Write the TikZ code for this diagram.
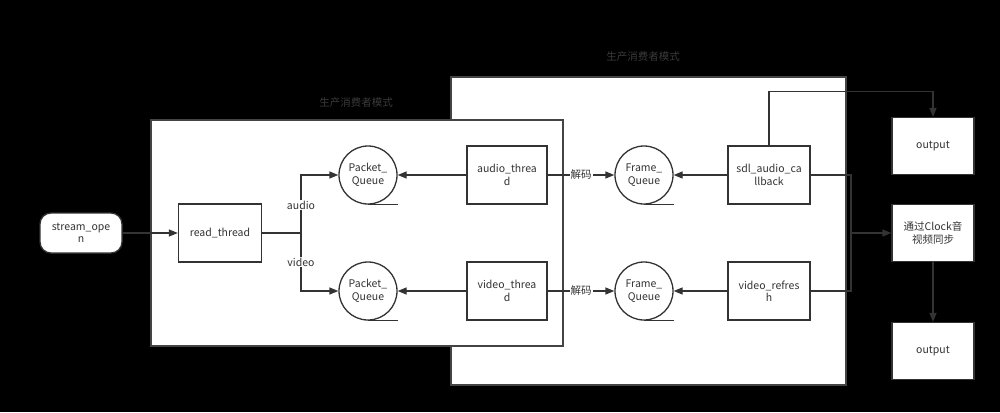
\documentclass[tikz,border=0pt]{standalone}
\usepackage{fontspec}
\setmainfont{Noto Sans CJK SC}
\usetikzlibrary{arrows.meta}

\definecolor{ink}{HTML}{333333}
\definecolor{frame}{HTML}{444444}
\definecolor{caption}{HTML}{3A3A3A}

\tikzset{
	every node/.style={font=\fontsize{10.5}{12.5}\selectfont, text=ink},
	proc/.style={draw=ink, line width=1.3pt, fill=white, minimum width=80pt, minimum height=58pt, inner sep=0pt, align=center},
	startbox/.style={proc, rounded corners=11pt, minimum width=82pt, minimum height=40pt},
	queue/.style={draw=ink, line width=1.3pt, fill=white, circle, minimum size=58pt, inner sep=0pt, align=center},
	group/.style={draw=frame, line width=1.3pt, fill=white},
	wire/.style={draw=ink, line width=1.3pt},
	arr/.style={wire, -{Triangle[length=9pt,width=7pt]}},
	tag/.style={fill=white, inner sep=1pt}
}

\begin{document}
\begin{tikzpicture}[x=1pt,y=-1pt]
		\fill[black] (0,0) rectangle (1000,412);
		\useasboundingbox (0,0) rectangle (1000,412);
		
		% the two producer/consumer groups
		\draw[group] (451,77) rectangle (846,385);
		\node[text=caption] (capR) at (643,57) {生产消费者模式};
		\draw[group] (151,120) rectangle (563,346);
		\node[text=caption] (capL) at (356,103) {生产消费者模式};
		
		\node[startbox] (stream) at (81,233) {stream\_ope\\n};
		\node[proc, minimum width=83pt] (read) at (220,233) {read\_thread};
		\coordinate (fork) at (301,233);
		
		\node[queue] (pqa) at (368,175) {Packet\_\\Queue};
		\node[queue] (pqv) at (368,291) {Packet\_\\Queue};
		\node[proc] (athr) at (507,175) {audio\_threa\\d};
		\node[proc] (vthr) at (507,291) {video\_threa\\d};
		
		\node[queue] (fqa) at (644,175) {Frame\_\\Queue};
		\node[queue] (fqv) at (644,291) {Frame\_\\Queue};
		\node[proc, minimum width=82pt] (sdl) at (769,175) {sdl\_audio\_ca\\llback};
		\node[proc, minimum width=82pt] (vref) at (769,291) {video\_refres\\h};
		
		\node[proc, minimum width=82pt, minimum height=57pt] (outa) at (933,146) {output};
		\node[proc, minimum width=82pt, minimum height=57pt] (clock) at (933,233) {通过Clock音\\视频同步};
		\node[proc, minimum width=82pt, minimum height=57pt] (outv) at (933,351) {output};
		\coordinate (bus) at (851,233);
		
		% tape tails of the queues
		\foreach \q in {pqa,pqv,fqa,fqv}
			\draw[wire] (\q.south) -- ++(30,0);
		
		\draw[arr] (stream) -- (read);
		\draw[wire] (read) -- (fork);
		\draw[arr] (fork) |- (pqa);
		\draw[arr] (fork) |- (pqv);
		\node[tag] (lblA) at (301,205) {audio};
		\node[tag] (lblV) at (301,262) {video};
		
		\draw[arr] (athr) -- (pqa);
		\draw[arr] (vthr) -- (pqv);
		\draw[arr] (athr) -- node[tag] (decA) {解码} (fqa);
		\draw[arr] (vthr) -- node[tag] (decV) {解码} (fqv);
		\draw[arr] (sdl) -- (fqa);
		\draw[arr] (vref) -- (fqv);
		
		\draw[arr] (sdl.north) -- ++(0,-54) -| (outa.north);
		\draw[wire] (sdl.east) -| (bus) |- (vref.east);
		\draw[arr] (bus) -- (clock);
		\draw[arr] (clock) -- (outv);
	\end{tikzpicture}
\end{document}
